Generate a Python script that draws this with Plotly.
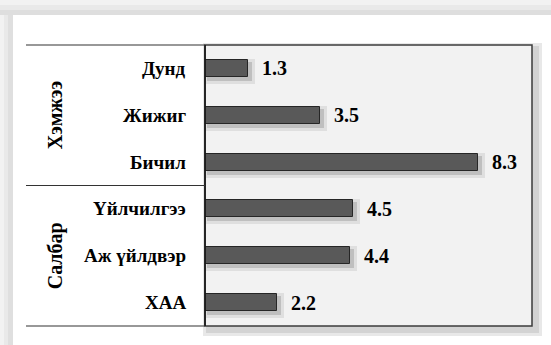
import plotly.graph_objects as go

# Data
categories = ["Дунд", "Жижиг", "Бичил", "Үйлчилгээ", "Аж үйлдвэр", "ХАА"]
values = [1.3, 3.5, 8.3, 4.5, 4.4, 2.2]
group_names = ["Хэмжээ", "Салбар"]
group_centers = [1, 4]          # category index at the middle of each group
group_split = 2.5               # boundary between the two groups

W, H = 551, 345
L, R, T, B = 205, 19, 45, 19
PW, PH = W - L - R, H - T - B
XMAX = 9.94
BAR_W = 0.363

FONT = "Liberation Serif"
BAR_FILL = "#595959"
BAR_EDGE = "#262626"

ux = XMAX / PW          # data units per pixel (x)
uy = 6.0 / PH           # category units per pixel (y)


def px(xp):
    return (xp - L) / PW


def py(yp):
    return (H - B - yp) / PH


def bold(s):
    return f"<b>{s}</b>"


fig = go.Figure()

# soft drop shadow under the bars
shift = 3
for s, a in [(4, 0.08), (1, 0.14)]:
    fig.add_trace(go.Bar(
        y=categories, x=[v + 2 * s * ux for v in values],
        base=(shift - s) * ux, orientation="h",
        width=BAR_W + 2 * s * uy, offset=-(BAR_W + 2 * s * uy) / 2 + shift * uy,
        marker=dict(color=f"rgba(0,0,0,{a})", line=dict(width=0)),
        hoverinfo="skip", showlegend=False,
    ))

fig.add_trace(go.Bar(
    y=categories, x=values, orientation="h", width=BAR_W,
    marker=dict(color=BAR_FILL, line=dict(color=BAR_EDGE, width=1)),
    showlegend=False,
))

shapes = []

# page shadow along the top and left edge of the white card
for y0, y1, g in [(0, 5, 242), (5, 10, 233), (10, 15, 222)]:
    shapes.append(dict(type="rect", xref="paper", yref="paper", layer="below",
                       x0=px(0), x1=px(W), y0=py(y0), y1=py(y1),
                       fillcolor=f"rgb({g},{g},{g})", line=dict(width=0)))
for x0, x1, g in [(0, 4, 242), (4, 8, 233), (8, 13, 223)]:
    shapes.append(dict(type="rect", xref="paper", yref="paper", layer="below",
                       x0=px(x0), x1=px(x1), y0=py(15), y1=py(H),
                       fillcolor=f"rgb({g},{g},{g})", line=dict(width=0)))

# drop shadow of the plot panel
for s in (6, 3):
    shapes.append(dict(type="rect", xref="paper", yref="paper", layer="below",
                       x0=px(L + 4 - s), x1=px(W - R + 4 + s),
                       y0=py(H - B + 4 + s), y1=py(T + 4 - s),
                       fillcolor="rgba(0,0,0,0.09)", line=dict(width=0)))
# panel fill
shapes.append(dict(type="rect", xref="paper", yref="paper", layer="below",
                   x0=0, x1=1, y0=0, y1=1, fillcolor="#f2f2f2", line=dict(width=0)))

# panel frame
shapes.append(dict(type="rect", xref="paper", yref="paper",
                   x0=0, x1=1, y0=0, y1=1, line=dict(color="#3c3c3c", width=1.5)))
shapes.append(dict(type="line", xref="paper", yref="paper",
                   x0=0, x1=0, y0=0, y1=1, line=dict(color="#111111", width=1.5)))

# rules across the label column (top, bottom, and between the two groups)
split_y = 1 - (group_split + 0.5) / len(categories)
for yv in (0, 1, split_y):
    shapes.append(dict(type="line", xref="paper", yref="paper",
                       x0=px(26), x1=0, y0=yv, y1=yv, line=dict(color="#333333", width=1.2)))

annotations = []
# category names, right-aligned in the label column
for c in categories:
    annotations.append(dict(x=px(188), y=c, xref="paper", yref="y", text=bold(c),
                            showarrow=False, xanchor="right",
                            font=dict(family=FONT, size=19, color="black")))
# value labels at the end of each bar
for c, v in zip(categories, values):
    annotations.append(dict(x=v, y=c, xref="x", yref="y", text=bold(f"{v:.1f}"),
                            showarrow=False, xanchor="left", xshift=12,
                            font=dict(family=FONT, size=20, color="black")))
# group captions
for name, ci in zip(group_names, group_centers):
    annotations.append(dict(x=px(42), y=ci, xref="paper", yref="y", text=bold(name),
                            showarrow=False, textangle=-90,
                            font=dict(family=FONT, size=20, color="black")))

fig.update_layout(
    width=W, height=H,
    margin=dict(l=L, r=R, t=T, b=B, pad=0),
    paper_bgcolor="white", plot_bgcolor="rgba(0,0,0,0)",
    barmode="overlay", bargap=0,
    shapes=shapes, annotations=annotations,
    xaxis=dict(range=[0, XMAX], visible=False),
    yaxis=dict(type="category", autorange="reversed", showgrid=False, zeroline=False,
               showline=False, ticks="", showticklabels=False),
)

fig.write_html("out.html")
